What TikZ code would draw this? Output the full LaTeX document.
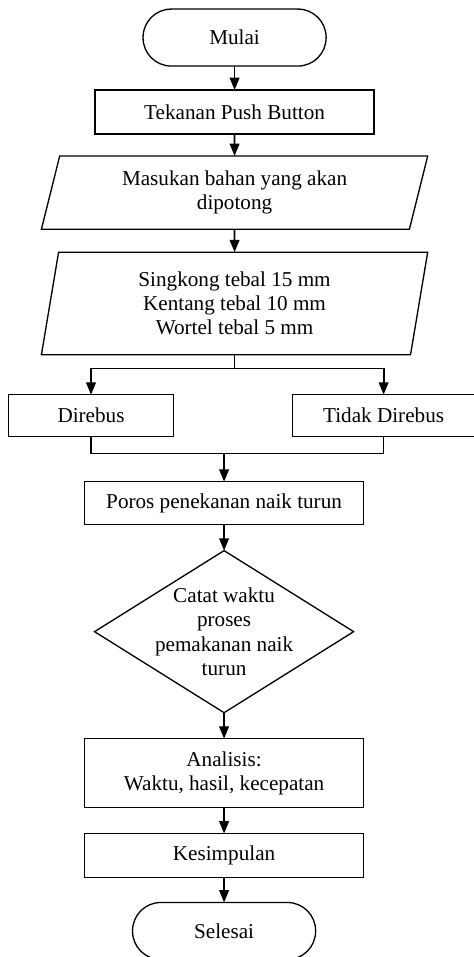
\documentclass[tikz,border=0pt]{standalone}
\usepackage{fontspec}
\setmainfont{Liberation Serif}
\usetikzlibrary{positioning,calc,shapes.geometric,arrows.meta}
\tikzset{
  term/.style ={rectangle, rounded corners=16pt, draw=black, line width=0.75pt, outer sep=0pt, minimum width=103.8pt, minimum height=32.3pt},
  proc/.style ={rectangle, draw=black, line width=0.75pt, outer sep=0pt, minimum width=158.2pt, minimum height=24.9pt, align=center},
  io/.style   ={trapezium, trapezium stretches body, draw=black, line width=0.75pt, outer sep=0pt, minimum width=219pt, align=center},
  dec/.style  ={diamond, aspect=1.6, draw=black, line width=0.75pt, outer sep=0pt, minimum width=146.9pt, minimum height=91.9pt, inner sep=-3pt, align=center},
  e/.style    ={-{Triangle[length=7pt, width=5.5pt]}, line width=1pt},
  ln/.style   ={line width=0.6pt},
}

\begin{document}
\begin{tikzpicture}[every node/.style={font=\fontsize{12}{13.8}\selectfont}]
\useasboundingbox (0,0) rectangle (268.2pt,-542.6pt);
\node[term] (mulai) at (133pt,-21.3pt) {Mulai};
\node[proc, below=13.6pt of mulai] (tekan) {Tekanan Push Button};
\node[io, trapezium left angle=76, trapezium right angle=104, inner ysep=8.4pt, minimum height=41.4pt, below=12.5pt of tekan] (masuk) {Masukan bahan yang akan\\dipotong};
\node[io, trapezium left angle=80.5, trapezium right angle=99.5, inner ysep=11pt, minimum height=57.8pt, below=13pt of masuk] (tebal) {Singkong tebal 15 mm\\Kentang tebal 10 mm\\Wortel tebal 5 mm};
\coordinate[below=7.9pt of tebal] (spl);
\node[proc, minimum width=93.6pt, minimum height=23.8pt, below=22.7pt of tebal, xshift=-81.4pt] (direbus) {Direbus};
\node[proc, minimum width=103.2pt, minimum height=23.8pt, below=22.7pt of tebal, xshift=84.5pt] (tidak) {Tidak Direbus};
\coordinate (mrg) at ($(direbus.south)!0.5!(tidak.south)+(0,-9.6pt)$);
\node[proc, minimum height=24.4pt, below=15.9pt of mrg, xshift=-7.5pt] (poros) {Poros penekanan naik turun};
\node[dec, below=14.7pt of poros] (catat) {Catat waktu\\proses\\pemakanan naik\\turun};
\node[proc, minimum height=39.1pt, below=14.7pt of catat] (analisis) {Analisis:\\Waktu, hasil, kecepatan};
\node[proc, below=14.7pt of analisis] (simpul) {Kesimpulan};
\node[term, below=14.2pt of simpul] (selesai) {Selesai};
\draw[e] (mulai) -- (tekan); \draw[e] (tekan) -- (masuk); \draw[e] (masuk) -- (tebal);
\draw[ln] (tebal.south) -- (spl);
\draw[e] (spl) -| (direbus); \draw[e] (spl) -| (tidak);
\draw[ln] (direbus.south) |- (mrg) -| (tidak.south);
\draw[e] (poros.north |- mrg) -- (poros);
\draw[e] (poros) -- (catat); \draw[e] (catat) -- (analisis);
\draw[e] (analisis) -- (simpul); \draw[e] (simpul) -- (selesai);
\end{tikzpicture}
\end{document}
